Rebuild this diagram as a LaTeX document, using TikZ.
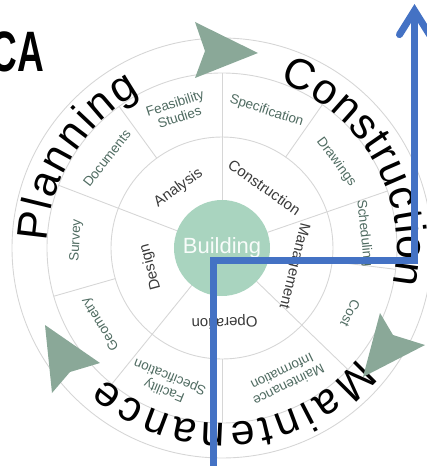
\documentclass[tikz,border=0pt]{standalone}
\usepackage{fontspec}
\setmainfont{Liberation Sans}
\usetikzlibrary{decorations.text,arrows.meta}
\definecolor{ringgray}{HTML}{D6D6D6}
\definecolor{mint}{HTML}{A9D4BF}
\definecolor{arrowgreen}{HTML}{8AA898}
\definecolor{flowblue}{HTML}{4472C4}
\definecolor{midtext}{HTML}{4F6B61}
\definecolor{innertext}{HTML}{3A3A3A}
\newcommand\bigtxt{\fontsize{43}{44}\selectfont}
\begin{document}
\begin{tikzpicture}[x=1pt,y=1pt,
  ring/.style={draw=ringgray, line width=0.9pt},
  midlabel/.style={font=\fontsize{13.5}{15}\selectfont, text=midtext, align=center, inner sep=0pt},
  innerlabel/.style={font=\fontsize{15}{17}\selectfont, text=innertext, inner sep=0pt},
  hub/.style={circle, fill=mint, minimum size=96pt, inner sep=0pt, text=white!92!mint, font=\fontsize{22}{24}\selectfont},
  flowarrow/.style={fill=arrowgreen, draw=none},
  bluepath/.style={draw=flowblue, line width=7pt, line join=miter,
     -{Straight Barb[length=24pt, width=30pt, line cap=round, line join=miter]}},
  arclabel/.style={decorate, decoration={text along path, text align=fit to path}}
]
\useasboundingbox (-222,-218) rectangle (205,248);
\clip (-222,-218) rectangle (205,248);

% rings
\draw[ring] (0,0) circle[radius=111];
\draw[ring] (0,0) circle[radius=175];
\draw[ring] (0,0) circle[radius=210];
\foreach \a in {90,19,-44,-129,159} \draw[ring] (\a:48) -- (\a:175);
\foreach \a in {55,-7,-90,196,126} \draw[ring] (\a:111) -- (\a:175);

% hub
\node[hub] (hubnode) at (0,0) {Building};

% inner ring labels
\node[innerlabel, rotate=36]  (analysis) at (126:74) {Analysis};
\node[innerlabel, rotate=-35] (constr)   at (55:74)  {Construction};
\node[innerlabel, rotate=-104](mgmt)     at (-14:74) {Management};
\node[innerlabel, rotate=-178](oper)     at (-88:74) {Operation};
\node[innerlabel, rotate=105] (design)   at (195:74) {Design};

% middle ring labels
\node[midlabel, rotate=18]   (feas)  at (108:145) {Feasibility\\Studies};
\node[midlabel, rotate=-18]  (spec)  at (72:144)  {Specification};
\node[midlabel, rotate=-53]  (draw)  at (37:143)  {Drawings};
\node[midlabel, rotate=-84]  (sched) at (6:143)   {Scheduling};
\node[midlabel, rotate=-117] (cost)  at (-27:144) {Cost};
\node[midlabel, rotate=-154] (minfo) at (-64:145) {Maintenance\\Information};
\node[midlabel, rotate=158]  (fspec) at (-112:146){Facility\\Specification};
\node[midlabel, rotate=122]  (geom)  at (-148:143){Geometry};
\node[midlabel, rotate=87]   (surv)  at (177:146) {Survey};
\node[midlabel, rotate=52]   (docs)  at (142:146) {Documents};

% outer arc texts
\path[arclabel, decoration={text={|\bigtxt|Planning}}]
  (178:175) arc[start angle=178, end angle=118, radius=175];
\path[arclabel, decoration={text={|\bigtxt|Construction}}]
  (71:175) arc[start angle=71, end angle=-12, radius=175];
\path[arclabel, decoration={text={|\bigtxt|Maintenance}}]
  (-39:175) arc[start angle=-39, end angle=-132, radius=175];

% cycle arrowheads
\fill[flowarrow] (-27,226) -- (36,195) -- (-27,170) -- (-17,197) -- cycle;
\fill[flowarrow] (158,-65) -- (171,-87) -- (203,-97) -- (141,-129) -- cycle;
\fill[flowarrow] (-177,-77) -- (-122,-115) -- (-152,-124) -- (-170,-145) -- cycle;

% title fragment
\node[font=\fontsize{57}{57}\selectfont\bfseries, anchor=base east, inner sep=0pt, xscale=0.65] (title) at (-178,176) {CA};

% blue flow line
\coordinate (bstart) at (-8,-225);
\coordinate (bturn1) at (-8,-12);
\coordinate (bturn2) at (192.5,-12);
\coordinate (btip) at (192.5,244);
\draw[bluepath] (bstart) -- (bturn1) -- (bturn2) -- (btip);
\end{tikzpicture}
\end{document}
